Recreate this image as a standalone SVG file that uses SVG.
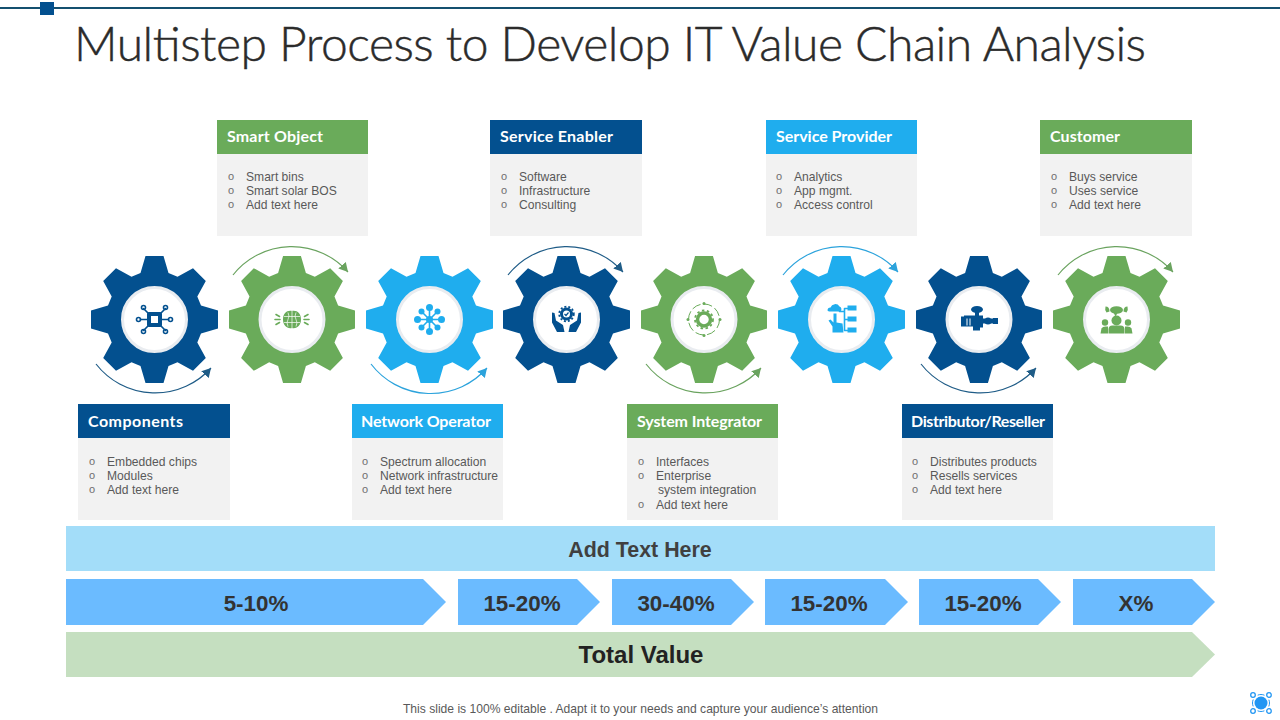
<svg xmlns="http://www.w3.org/2000/svg" width="1280" height="720" viewBox="0 0 1280 720">
<style>
text{font-family:"Liberation Sans",Arial,sans-serif}
.title{font-family:Lato,"Liberation Sans",sans-serif;font-weight:300;font-size:48px;fill:#2b2b2b;stroke:#2b2b2b;stroke-width:.45px}
.hd{font-family:Lato,"Liberation Sans",sans-serif;font-weight:700;font-size:16px;fill:#fff}
.bd{font-size:12.1px;fill:#595959}
.bu{font-size:11px;fill:#6f6f6f}
.body{fill:#f2f2f2}
.dk{fill:#03508f}.gr{fill:#6aab5a}.lt{fill:#1fadee}
.sdk{stroke:#03508f}.sgr{stroke:#6aab5a}.slt{stroke:#1fadee}
.hub{fill:#fff;stroke:#e9ecf0;stroke-width:3}
.arc{fill:none;stroke-width:1.2}
.il{fill:none;stroke-width:1.6;stroke-linecap:round;stroke-linejoin:round}
.b1{fill:#a3ddf9}.b2{fill:#6bbbff}.b3{fill:#c5dfc0}
.bt{font-weight:700;font-size:22.4px;fill:#333;text-anchor:middle}
</style>
<defs>
<path id="gear" d="M-9-63.500H9L14-46.500 23-42.800 38.500-51.300 51.300-38.500 42.800-23 46.500-14 63.500-9V9L46.500 14 42.800 23 51.300 38.500 38.500 51.300 23 42.800 14 46.500 9 63.500H-9L-14 46.500-23 42.800-38.500 51.300-51.300 38.500-42.800 23-46.500 14-63.500 9V-9L-46.500-14-42.800-23-51.300-38.500-38.500-51.300-23-42.800-14-46.500Z"/>
<marker id="aD" markerUnits="userSpaceOnUse" markerWidth="10" markerHeight="10" refX="9" refY="5" orient="auto"><path d="M0 0L9 5 0 10Z" fill="#1f5c87"/></marker>
<marker id="aG" markerUnits="userSpaceOnUse" markerWidth="10" markerHeight="10" refX="9" refY="5" orient="auto"><path d="M0 0L9 5 0 10Z" fill="#6aa35f"/></marker>
<marker id="aL" markerUnits="userSpaceOnUse" markerWidth="10" markerHeight="10" refX="9" refY="5" orient="auto"><path d="M0 0L9 5 0 10Z" fill="#2ca3dc"/></marker>
</defs>
<rect id="topline" x="0" y="7" width="1280" height="2" fill="#14506f"/>
<rect id="topsquare" x="40" y="2" width="14" height="13" fill="#03508f"/>
<text class="title" x="74" y="61" textLength="1072" lengthAdjust="spacing">Multistep Process to Develop IT Value Chain Analysis</text>

<g id="connectors">
<path class="arc" stroke="#1f5c87" marker-end="url(#aD)" d="M96 364A75 75 0 0 0 211 368"/>
<path class="arc" stroke="#6aa35f" marker-end="url(#aG)" d="M233 275A75 75 0 0 1 348 272"/>
<path class="arc" stroke="#2ca3dc" marker-end="url(#aL)" d="M371 364A75 75 0 0 0 487 368"/>
<path class="arc" stroke="#1f5c87" marker-end="url(#aD)" d="M508 275A75 75 0 0 1 623 272"/>
<path class="arc" stroke="#6aa35f" marker-end="url(#aG)" d="M646 364A75 75 0 0 0 761 368"/>
<path class="arc" stroke="#2ca3dc" marker-end="url(#aL)" d="M783 275A75 75 0 0 1 898 272"/>
<path class="arc" stroke="#1f5c87" marker-end="url(#aD)" d="M921 364A75 75 0 0 0 1036 368"/>
<path class="arc" stroke="#6aa35f" marker-end="url(#aG)" d="M1058 275A75 75 0 0 1 1173 272"/>
</g>

<g id="gear-components" transform="translate(154.500 319.500)">
<use href="#gear" class="dk"/><circle class="hub" r="32"/>
<g class="il sdk">
<path d="M-5-5L-11-11M5-5L11-11M-5 5L-11 11M5 5L11 11M-7 0H-14M7 0H14"/>
<circle cx="-11" cy="-12" r="2"/><circle cx="11" cy="-12" r="2"/><circle cx="-16" cy="0" r="2"/><circle cx="16" cy="0" r="2"/><circle cx="-11" cy="12" r="2"/><circle cx="11" cy="12" r="2"/>
</g>
<rect x="-7.500" y="-7.500" width="15" height="15" rx="2" class="dk"/><rect x="-3.500" y="-3.500" width="7" height="7" fill="#fff"/>
</g>

<g id="gear-smart-object" transform="translate(292 319.500)">
<use href="#gear" class="gr" transform="scale(.992 1)"/><circle class="hub" r="32"/>
<path class="gr" d="M0-8.500C-5-9.500-9-6-9 0-9 6-5 9.500 0 8.500 5 9.500 9 6 9 0 9-6 5-9.500 0-8.500Z"/>
<path d="M0-8.500V8.500M-4-7Q-2-3-4 0T-4 7M4-7Q2-3 4 0T4 7M-8-3H8M-8 3H8" stroke="#fff" stroke-width=".7" fill="none"/>
<g class="il sgr"><path d="M-16-5L-12.500-3M-17 0H-12M-16 5L-12.500 3M16-5L12.500-3M17 0H12M16 5L12.500 3"/></g>
</g>

<g id="gear-network-operator" transform="translate(429.500 319.500)">
<use href="#gear" class="lt"/><circle class="hub" r="32"/>
<g class="il slt"><path d="M-11 0H11M0-11V11M-8-8L8 8M-8 8L8-8"/></g>
<g class="lt"><circle r="3.500"/><circle cy="-12" r="3.500"/><circle cy="12" r="3.500"/><circle cx="-12" r="3.500"/><circle cx="12" r="3.500"/><circle cx="-8" cy="-8" r="3"/><circle cx="8" cy="-8" r="3"/><circle cx="-8" cy="8" r="3"/><circle cx="8" cy="8" r="3"/></g>
</g>

<g id="gear-service-enabler" transform="translate(566.500 319.500)">
<use href="#gear" class="dk"/><circle class="hub" r="32"/>
<circle cy="-5.500" r="5" fill="none" stroke="#03508f" stroke-width="3"/>
<circle cy="-5.500" r="7.300" fill="none" stroke="#03508f" stroke-width="1.800" stroke-dasharray="2 2"/>
<path class="dk" d="M-14.500-7L-12-6.500-10.500 1-3.500 5.500-2 12.500H-9.500L-14.500 3ZM14.500-7L12-6.500 10.500 1 3.500 5.500 2 12.500H9.500L14.500 3Z"/>
<path d="M-2-5.500L-.5-4 2-7" fill="none" stroke="#03508f" stroke-width="1.200"/>
</g>

<g id="gear-system-integrator" transform="translate(704 319.500)">
<use href="#gear" class="gr" transform="scale(.992 1)"/><circle class="hub" r="32"/>
<circle r="6.500" fill="none" stroke="#6aab5a" stroke-width="3.500"/>
<circle r="9" fill="none" stroke="#6aab5a" stroke-width="1.800" stroke-dasharray="2.500 2.500"/>
<circle r="15.500" fill="none" stroke="#6aab5a" stroke-width="1" stroke-dasharray="9 3"/>
<g class="gr"><circle cy="-16" r="1.500"/><circle cy="16" r="1.500"/><circle cx="-16" r="1.500"/><circle cx="16" r="1.500"/></g>
</g>

<g id="gear-service-provider" transform="translate(841.500 319.500)">
<use href="#gear" class="lt"/><circle class="hub" r="32"/>
<g class="lt">
<path d="M-14-9a3 3 0 0 1 3-3 5 5 0 0 1 9-1 3 3 0 0 1 1 5H-12a2.500 2.500 0 0 1-2-1Z"/>
<path d="M-8-6h3V3L1 4 2 13H-9V7L-13 1-11 0-8 3Z"/>
<rect x="6" y="-14" width="9" height="5"/><rect x="6" y="-3" width="9" height="5"/><rect x="6" y="8" width="9" height="5"/>
</g>
<path class="il slt" d="M3-11V11M3-11H6M3 0H6M3 11H6M-2-8H3" stroke-width="1"/>
</g>

<g id="gear-distributor" transform="translate(979 319.500)">
<use href="#gear" class="dk" transform="scale(.992 1)"/><circle class="hub" r="32"/>
<g class="dk">
<ellipse cx="-2" cy="-10" rx="6" ry="3.500"/><rect x="-4" y="-8" width="4" height="6"/>
<path d="M-15-4H4V8H1V11H-6V7H-15Z"/><rect x="-18" y="-3" width="3" height="10"/>
<rect x="4" y="-1" width="10" height="5"/><circle cx="9" cy="1.500" r="3.500"/><rect x="14" y="-1.500" width="5" height="6"/>
</g>
<path d="M-12-1V6M-9-1V6" stroke="#fff" stroke-width="1"/>
</g>

<g id="gear-customer" transform="translate(1116.500 319.500)">
<use href="#gear" class="gr"/><circle class="hub" r="32"/>
<g class="gr">
<ellipse cx="0" cy="-9.500" rx="6.500" ry="3.800"/><path d="M-3-7L-1-3 1-6.500Z"/><path d="M-11-13Q-7-13-7-8L-10-7Q-12-10-11-13ZM11-13Q7-13 7-8L10-7Q12-10 11-13Z"/>
<circle cy="1" r="5"/><path d="M-8 14V10Q-8 6-4 6H4Q8 6 8 10V14Z"/>
<circle cx="-11.500" cy="3" r="3.200"/><path d="M-16 14L-15 9Q-14 7-11 7H-8.500V14Z"/>
<circle cx="11.500" cy="3" r="3.200"/><path d="M16 14L15 9Q14 7 11 7H8.500V14Z"/>
</g>
</g>

<g id="card-smart-object"><rect class="body" x="217" y="154" width="151" height="82"/><rect class="gr" x="217" y="120" width="151" height="34"/><text class="hd" x="227" y="142" textLength="96">Smart Object</text>
<text class="bu" x="228" y="180">o</text><text class="bd" x="246" y="181">Smart bins</text><text class="bu" x="228" y="194">o</text><text class="bd" x="246" y="195">Smart solar BOS</text><text class="bu" x="228" y="208">o</text><text class="bd" x="246" y="209">Add text here</text></g>

<g id="card-service-enabler"><rect class="body" x="490" y="154" width="152" height="82"/><rect class="dk" x="490" y="120" width="152" height="34"/><text class="hd" x="500" y="142" textLength="113">Service Enabler</text>
<text class="bu" x="501" y="180">o</text><text class="bd" x="519" y="181">Software</text><text class="bu" x="501" y="194">o</text><text class="bd" x="519" y="195">Infrastructure</text><text class="bu" x="501" y="208">o</text><text class="bd" x="519" y="209">Consulting</text></g>

<g id="card-service-provider"><rect class="body" x="766" y="154" width="151" height="82"/><rect class="lt" x="766" y="120" width="151" height="34"/><text class="hd" x="776" y="142" textLength="116">Service Provider</text>
<text class="bu" x="776" y="180">o</text><text class="bd" x="794" y="181">Analytics</text><text class="bu" x="776" y="194">o</text><text class="bd" x="794" y="195">App mgmt.</text><text class="bu" x="776" y="208">o</text><text class="bd" x="794" y="209">Access control</text></g>

<g id="card-customer"><rect class="body" x="1040" y="154" width="152" height="82"/><rect class="gr" x="1040" y="120" width="152" height="34"/><text class="hd" x="1050" y="142" textLength="70">Customer</text>
<text class="bu" x="1051" y="180">o</text><text class="bd" x="1069" y="181">Buys service</text><text class="bu" x="1051" y="194">o</text><text class="bd" x="1069" y="195">Uses service</text><text class="bu" x="1051" y="208">o</text><text class="bd" x="1069" y="209">Add text here</text></g>

<g id="card-components"><rect class="body" x="78" y="438" width="152" height="82"/><rect class="dk" x="78" y="404" width="152" height="34"/><text class="hd" x="88" y="427" textLength="95">Components</text>
<text class="bu" x="89" y="465">o</text><text class="bd" x="107" y="466">Embedded chips</text><text class="bu" x="89" y="479">o</text><text class="bd" x="107" y="480">Modules</text><text class="bu" x="89" y="493">o</text><text class="bd" x="107" y="494">Add text here</text></g>

<g id="card-network-operator"><rect class="body" x="352" y="438" width="151" height="82"/><rect class="lt" x="352" y="404" width="151" height="34"/><text class="hd" x="361" y="427" textLength="130">Network Operator</text>
<text class="bu" x="362" y="465">o</text><text class="bd" x="380" y="466">Spectrum allocation</text><text class="bu" x="362" y="479">o</text><text class="bd" x="380" y="480" textLength="118">Network infrastructure</text><text class="bu" x="362" y="493">o</text><text class="bd" x="380" y="494">Add text here</text></g>

<g id="card-system-integrator"><rect class="body" x="627" y="438" width="151" height="82"/><rect class="gr" x="627" y="404" width="151" height="34"/><text class="hd" x="637" y="427" textLength="125">System Integrator</text>
<text class="bu" x="638" y="465">o</text><text class="bd" x="656" y="466">Interfaces</text><text class="bu" x="638" y="479">o</text><text class="bd" x="656" y="480">Enterprise</text><text class="bd" x="658" y="494">system integration</text><text class="bu" x="638" y="508">o</text><text class="bd" x="656" y="509">Add text here</text></g>

<g id="card-distributor"><rect class="body" x="902" y="438" width="151" height="82"/><rect class="dk" x="902" y="404" width="151" height="34"/><text class="hd" x="911" y="427" textLength="134">Distributor/Reseller</text>
<text class="bu" x="912" y="465">o</text><text class="bd" x="930" y="466">Distributes products</text><text class="bu" x="912" y="479">o</text><text class="bd" x="930" y="480">Resells services</text><text class="bu" x="912" y="493">o</text><text class="bd" x="930" y="494">Add text here</text></g>

<g id="bar-add-text"><rect class="b1" x="66" y="526" width="1149" height="45"/><text x="640" y="557" text-anchor="middle" font-weight="700" font-size="21.400" fill="#404040">Add Text Here</text></g>
<g id="chevrons">
<path class="b2" d="M66 579H423L446 602 423 625H66Z"/><text class="bt" x="256" y="611">5-10%</text>
<path class="b2" d="M458 579H577L600 602 577 625H458Z"/><text class="bt" x="522" y="611">15-20%</text>
<path class="b2" d="M612 579H731L754 602 731 625H612Z"/><text class="bt" x="676" y="611">30-40%</text>
<path class="b2" d="M765 579H885L908 602 885 625H765Z"/><text class="bt" x="829" y="611">15-20%</text>
<path class="b2" d="M919 579H1038L1061 602 1038 625H919Z"/><text class="bt" x="983" y="611">15-20%</text>
<path class="b2" d="M1073 579H1192L1215 602 1192 625H1073Z"/><text class="bt" x="1136" y="611">X%</text>
</g>
<g id="bar-total"><path class="b3" d="M66 632H1192L1215 654.500 1192 677H66Z"/><text x="641" y="663" text-anchor="middle" font-weight="700" font-size="24" fill="#222">Total Value</text></g>
<text x="640.500" y="713" text-anchor="middle" font-size="12.100" fill="#595959">This slide is 100% editable . Adapt it to your needs and capture your audience’s attention</text>
<g id="logo" transform="translate(1261 703)">
<circle r="6.500" fill="#2196f3"/><circle r="8.500" fill="none" stroke="#2196f3" stroke-width="1" stroke-dasharray="7 6.300" stroke-dashoffset="3.500"/>
<g fill="#fff" stroke="#2196f3" stroke-width="1.300"><circle cx="-8" cy="-8" r="2.300"/><circle cx="8" cy="-8" r="2.300"/><circle cx="-8" cy="8" r="2.300"/><circle cx="8" cy="8" r="2.300"/></g>
</g>
</svg>
